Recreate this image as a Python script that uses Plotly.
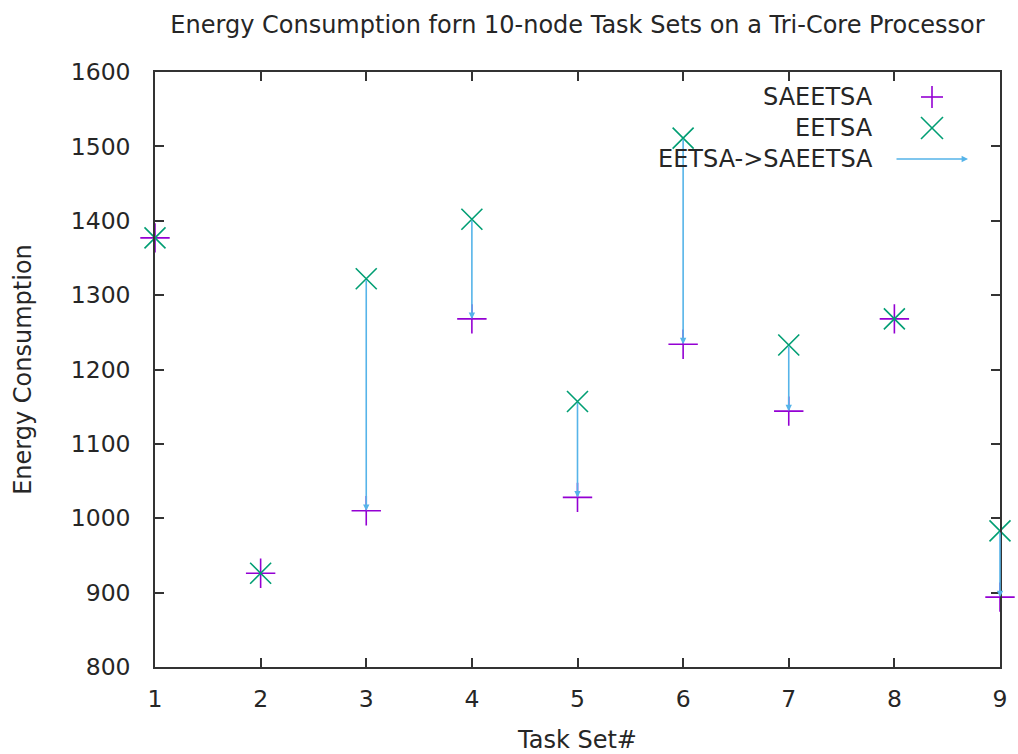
import plotly.graph_objects as go

task_sets = [1, 2, 3, 4, 5, 6, 7, 8, 9]
saeetsa = [1377, 926, 1010, 1268, 1028, 1234, 1144, 1268, 894]
eetsa = [1377, 926, 1322, 1402, 1157, 1511, 1233, 1268, 983]
title_text = "Energy Consumption forn 10-node Task Sets on a Tri-Core Processor"
legend_names = ["SAEETSA", "EETSA", "EETSA->SAEETSA"]

C_SA = "#9400d3"
C_EE = "#009e73"
C_AR = "#56b4e9"
FONT = "DejaVu Sans"
FS = 24
TXT = "#262626"

W, H = 1018, 754
ML, MR, MT, MB = 155, 18, 72, 87
PW, PH = W - ML - MR, H - MT - MB

fig = go.Figure()
fig.add_trace(go.Scatter(x=task_sets, y=saeetsa, mode="markers", name=legend_names[0],
                         marker=dict(symbol="cross-thin", size=21, line=dict(color=C_SA, width=1.6)),
                         cliponaxis=False, showlegend=False))
fig.add_trace(go.Scatter(x=task_sets, y=eetsa, mode="markers", name=legend_names[1],
                         marker=dict(symbol="x-thin", size=21, line=dict(color=C_EE, width=1.6)),
                         cliponaxis=False, showlegend=False))

annotations = []
for xs, s, e in zip(task_sets, saeetsa, eetsa):
    if s != e:
        annotations.append(dict(x=xs, y=s, ax=xs, ay=e, xref="x", yref="y", axref="x", ayref="y",
                                showarrow=True, arrowhead=2, arrowsize=0.8, arrowwidth=1.6,
                                arrowcolor=C_AR, standoff=0, startstandoff=0, text=""))

def px2paper(px, py):
    return (px - ML) / PW, (H - MB - py) / PH

# custom gnuplot-style legend (text right-aligned, sample on the right)
rows_py = [97, 128, 159]
text_px = 875
sample_px = 932
shapes = []
for i, name in enumerate(legend_names):
    tx, ty = px2paper(text_px, rows_py[i])
    annotations.append(dict(x=tx, y=ty, xref="paper", yref="paper", text=name, showarrow=False,
                            xanchor="right", yanchor="middle", font=dict(family=FONT, size=FS, color=TXT)))
half = 11
sx, sy = px2paper(sample_px, rows_py[0])
dx, dy = half / PW, half / PH
shapes.append(dict(type="line", xref="paper", yref="paper", x0=sx - dx, x1=sx + dx, y0=sy, y1=sy,
                   line=dict(color=C_SA, width=1.6)))
shapes.append(dict(type="line", xref="paper", yref="paper", x0=sx, x1=sx, y0=sy - dy, y1=sy + dy,
                   line=dict(color=C_SA, width=1.6)))
sx, sy = px2paper(sample_px, rows_py[1])
shapes.append(dict(type="line", xref="paper", yref="paper", x0=sx - dx, x1=sx + dx, y0=sy - dy, y1=sy + dy,
                   line=dict(color=C_EE, width=1.6)))
shapes.append(dict(type="line", xref="paper", yref="paper", x0=sx - dx, x1=sx + dx, y0=sy + dy, y1=sy - dy,
                   line=dict(color=C_EE, width=1.6)))
hx, hy = px2paper(968, rows_py[2])
annotations.append(dict(x=hx, y=hy, xref="paper", yref="paper", ax=-73, ay=0, showarrow=True,
                        arrowhead=2, arrowsize=0.8, arrowwidth=1.6, arrowcolor=C_AR, standoff=0, text=""))

axis_common = dict(showline=True, mirror="ticks", linecolor="#333333", linewidth=1.5,
                   ticks="inside", ticklen=9, tickwidth=1.5, tickcolor="#333333",
                   showgrid=False, zeroline=False, automargin=False,
                   tickfont=dict(family=FONT, size=FS - 0.5, color=TXT))

fig.update_layout(
    width=W, height=H,
    margin=dict(l=ML, r=MR, t=MT, b=MB, autoexpand=False),
    plot_bgcolor="white", paper_bgcolor="white",
    title=dict(text=title_text, x=(ML + PW / 2) / W, xanchor="center", y=1 - 25 / H, yanchor="middle",
               yref="container", font=dict(family=FONT, size=FS, color=TXT)),
    xaxis=dict(range=[1, 9], dtick=1, tick0=1, ticklabelstandoff=10,
               title=dict(text="Task Set#", standoff=26, font=dict(family=FONT, size=FS, color=TXT)),
               **axis_common),
    yaxis=dict(range=[800, 1600], dtick=100, tick0=800, ticklabelstandoff=18,
               title=dict(text="Energy Consumption", standoff=32, font=dict(family=FONT, size=FS, color=TXT)),
               **axis_common),
    annotations=annotations,
    shapes=shapes,
    showlegend=False,
)

fig.write_html("out.html")
